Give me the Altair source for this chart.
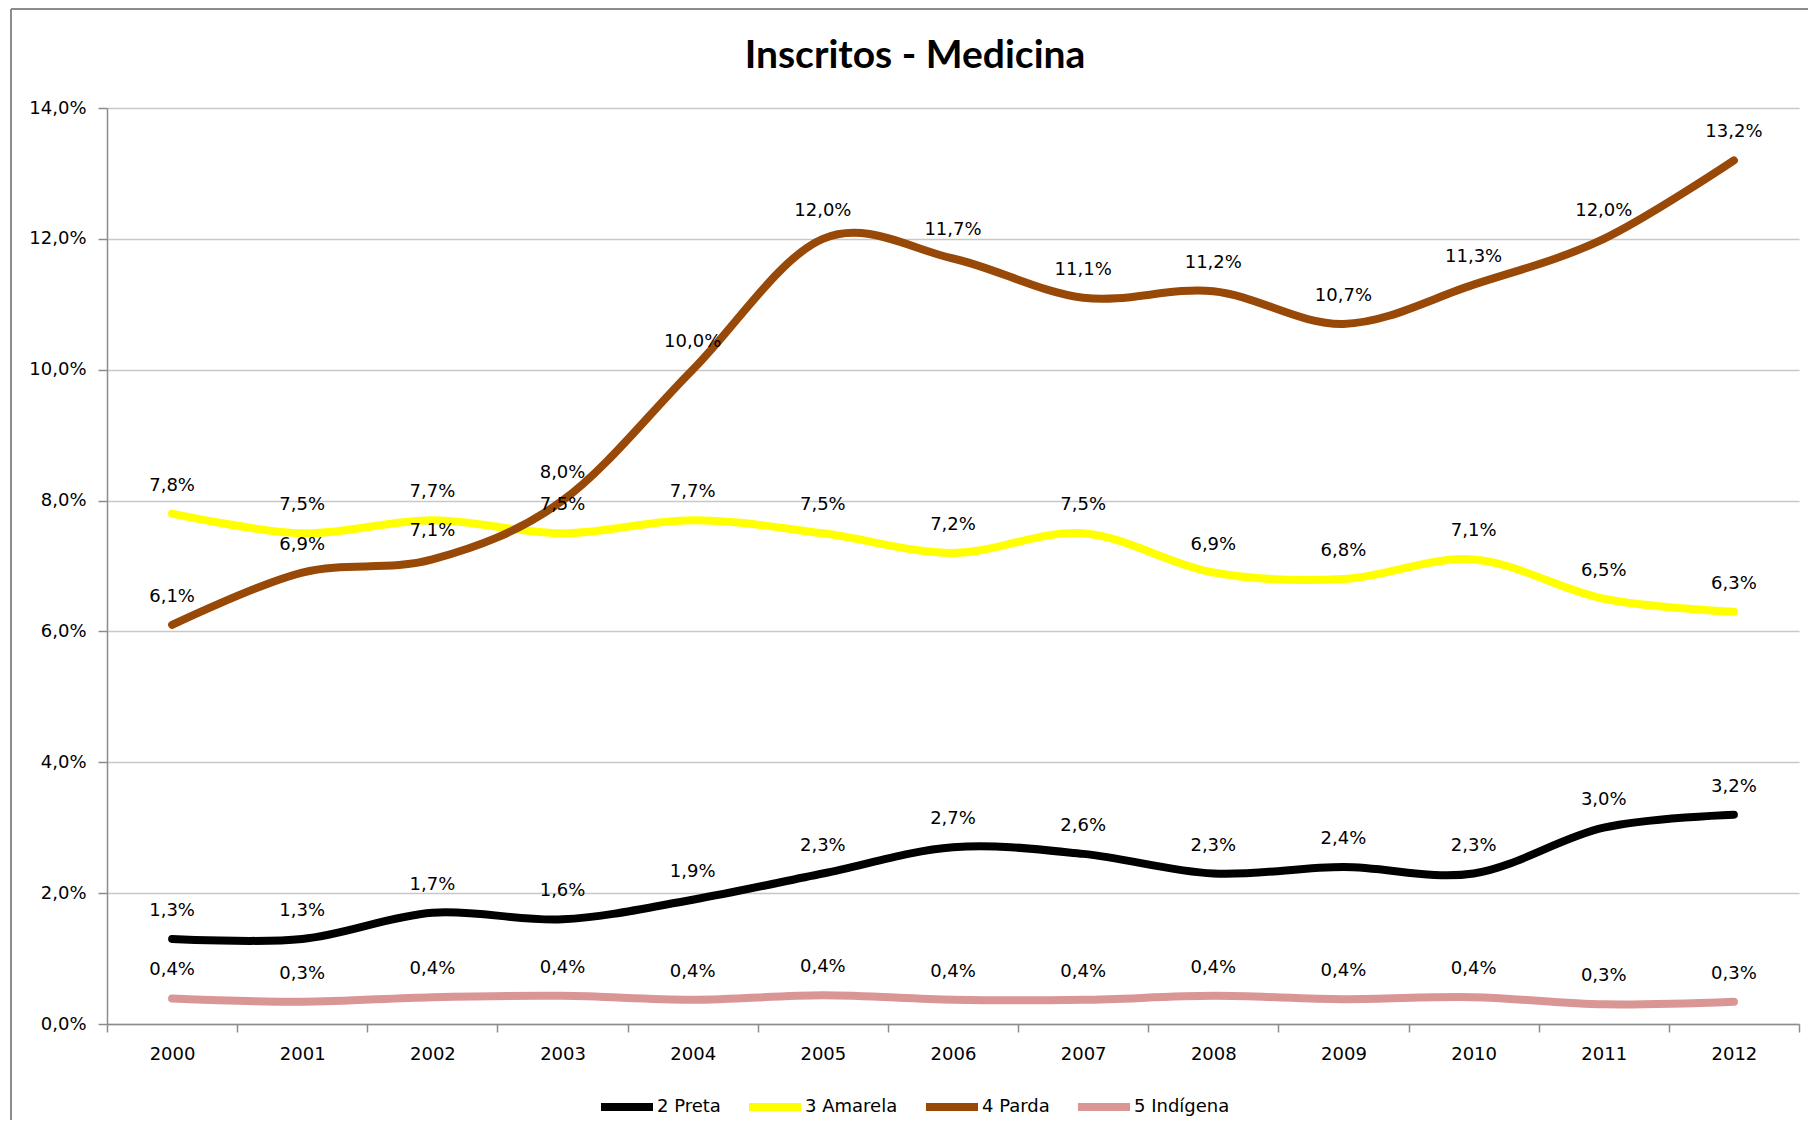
import altair as alt
import pandas as pd

years = [str(y) for y in range(2000, 2013)]
series = ["2 Preta", "3 Amarela", "4 Parda", "5 Indígena"]
colors = ["#000000", "#FFFF00", "#984807", "#D99694"]

preta = [1.3, 1.3, 1.7, 1.6, 1.9, 2.3, 2.7, 2.6, 2.3, 2.4, 2.3, 3.0, 3.2]
amarela = [7.8, 7.5, 7.7, 7.5, 7.7, 7.5, 7.2, 7.5, 6.9, 6.8, 7.1, 6.5, 6.3]
parda = [6.1, 6.9, 7.1, 8.0, 10.0, 12.0, 11.7, 11.1, 11.2, 10.7, 11.3, 12.0, 13.2]
indigena = [0.39, 0.34, 0.41, 0.43, 0.37, 0.44, 0.37, 0.37, 0.43, 0.38, 0.41, 0.30, 0.34]

title_text = "Inscritos - Medicina"

rows = []
for name, vals in zip(series, [preta, amarela, parda, indigena]):
    for y, v in zip(years, vals):
        rows.append({"ano": y, "grupo": name, "valor": v})
df = pd.DataFrame(rows)

FONT = "DejaVu Sans"
TFONT = "Lato"
FS = 18
GRAY = "#8c8c8c"

base = alt.Chart(df).encode(
    x=alt.X("ano:N", sort=years, title=None,
            axis=alt.Axis(labelAngle=0, tickBand="extent", domainColor=GRAY, tickColor=GRAY,
                          tickSize=8, labelPadding=13, labelFont=FONT, labelFontSize=FS,
                          labelColor="#000000", grid=False, domainWidth=1.5, tickWidth=1.5)),
    y=alt.Y("valor:Q", title=None,
            scale=alt.Scale(domain=[0, 14], nice=False, zero=True),
            axis=alt.Axis(values=[0, 2, 4, 6, 8, 10, 12, 14],
                          labelExpr="replace(format(datum.value, '.1f'), '.', ',') + '%'",
                          domainColor=GRAY, tickColor=GRAY, tickSize=9, labelPadding=12,
                          labelFont=FONT, labelFontSize=FS, labelColor="#000000",
                          gridColor="#c8c8c8", gridWidth=1.5, domainWidth=1.5, tickWidth=1.5)),
)

lines = base.mark_line(interpolate="cardinal", tension=0, strokeWidth=8, strokeCap="round").encode(
    color=alt.Color("grupo:N", sort=series,
                    scale=alt.Scale(domain=series, range=colors),
                    legend=alt.Legend(title=None, orient="none", legendX=490, legendY=969,
                                      direction="horizontal", symbolType="stroke",
                                      symbolSize=2704, symbolStrokeWidth=8,
                                      labelFont=FONT, labelFontSize=FS, labelColor="#000000",
                                      labelOffset=0, columnPadding=12, padding=0))
)

labels = base.mark_text(font=FONT, fontSize=FS, color="#000000", dy=-28, baseline="middle").encode(
    text="rotulo:N"
).transform_calculate(
    rotulo="replace(format(datum.valor, '.1f'), '.', ',') + '%'"
)

frame_df = pd.DataFrame({"k": [0]})
left_border = alt.Chart(frame_df).mark_rule(color=GRAY, strokeWidth=2).encode(
    x=alt.value(-96), y=alt.value(-99), y2=alt.value(1040))
top_border = alt.Chart(frame_df).mark_rule(color=GRAY, strokeWidth=2).encode(
    x=alt.value(-96), x2=alt.value(1720), y=alt.value(-99))

title_df = pd.DataFrame({"t": [title_text]})
title = alt.Chart(title_df).mark_text(font=TFONT, fontSize=39, fontWeight="bold", color="#000000",
                                      baseline="alphabetic", align="center").encode(
    text="t:N", x=alt.value(808), y=alt.value(-40))

chart = alt.layer(left_border, top_border, lines, labels, title).properties(
    width=1692, height=916,
    autosize=alt.AutoSizeParams(type="none"),
    padding={"left": 99, "top": 100, "right": 9, "bottom": 96},
).configure_view(stroke=None)

chart.save("out.html", embed_options={"renderer": "svg", "actions": False})
